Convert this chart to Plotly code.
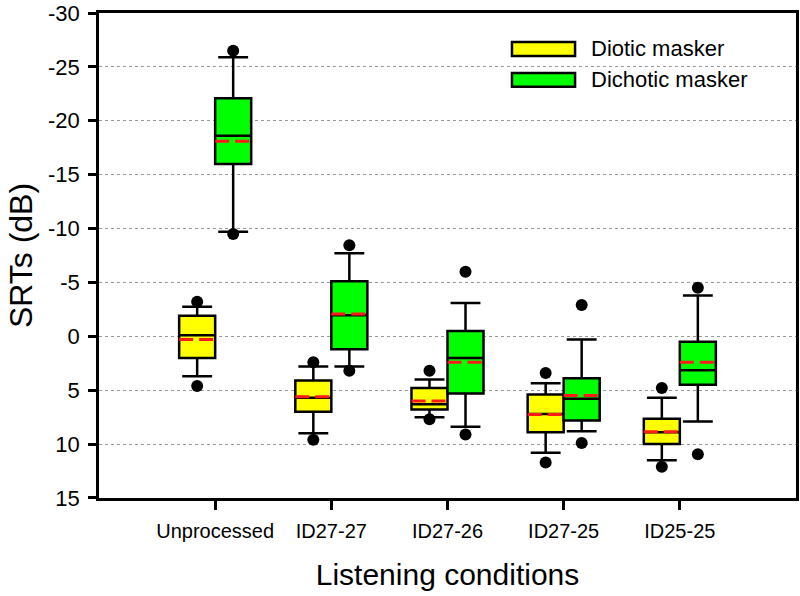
import plotly.graph_objects as go

conditions = ["Unprocessed", "ID27-27", "ID27-26", "ID27-25", "ID25-25"]

# Diotic masker (values in dB SRT)
dio_p_lo = [-3.2, 2.4, 3.2, 3.4, 4.8]
dio_w_lo = [-2.75, 2.8, 4.0, 4.35, 5.7]
dio_q1 = [-1.9, 4.1, 4.8, 5.4, 7.65]
dio_med = [-0.1, 5.7, 6.3, 7.2, 8.9]
dio_mean = [0.3, 5.6, 6.0, 7.25, 8.85]
dio_q3 = [2.0, 7.0, 6.8, 8.9, 10.0]
dio_w_hi = [3.7, 9.0, 7.5, 10.8, 11.5]
dio_p_hi = [4.6, 9.6, 7.7, 11.7, 12.1]

# Dichotic masker
dic_p_lo = [-26.5, -8.45, -6.0, -2.9, -4.5]
dic_w_lo = [-25.9, -7.7, -3.1, 0.3, -3.8]
dic_q1 = [-22.1, -5.1, -0.5, 3.9, 0.5]
dic_med = [-18.6, -1.95, 2.0, 5.8, 3.15]
dic_mean = [-18.1, -2.07, 2.4, 5.5, 2.4]
dic_q3 = [-16.0, 1.2, 5.3, 7.8, 4.5]
dic_w_hi = [-9.7, 2.8, 8.4, 8.8, 7.9]
dic_p_hi = [-9.5, 3.2, 9.1, 9.9, 10.95]

yticks = list(range(-30, 20, 5))
yticklabels = [str(v) for v in yticks]

BW = 0.31
OFF = 0.155
LW = 2.5

fig = go.Figure()

series = [
    ("Diotic masker", -OFF, "#ffff00", dio_p_lo, dio_w_lo, dio_q1, dio_med, dio_mean, dio_q3, dio_w_hi, dio_p_hi),
    ("Dichotic masker", OFF, "#00ff00", dic_p_lo, dic_w_lo, dic_q1, dic_med, dic_mean, dic_q3, dic_w_hi, dic_p_hi),
]

for name, off, col, plo, wlo, q1, med, mean, q3, whi, phi in series:
    xs = [i + off for i in range(len(conditions))]
    fig.add_trace(go.Box(
        x=xs, q1=q1, median=med, q3=q3, lowerfence=wlo, upperfence=whi,
        width=BW, whiskerwidth=0.83, fillcolor=col,
        line=dict(color="black", width=LW), name=name, showlegend=False,
        hoverinfo="skip",
    ))
    # mean lines
    mx, my = [], []
    for x, m in zip(xs, mean):
        mx += [x - BW / 2, x + BW / 2, None]
        my += [m, m, None]
    fig.add_trace(go.Scatter(
        x=mx, y=my, mode="lines",
        line=dict(color="#ff1a1a", width=3, dash="14px,6px"),
        showlegend=False, hoverinfo="skip",
    ))
    # 5th / 95th percentile dots
    fig.add_trace(go.Scatter(
        x=xs + xs, y=plo + phi, mode="markers",
        marker=dict(color="black", size=12),
        showlegend=False, hoverinfo="skip",
    ))

# custom legend
leg = [("Diotic masker", "#ffff00", 0.9403, 0.9115), ("Dichotic masker", "#00ff00", 0.8765, 0.8477)]
for text, col, y1, y0 in leg:
    fig.add_shape(type="rect", xref="paper", yref="paper", x0=0.5925, x1=0.683, y0=y0, y1=y1,
                  fillcolor=col, line=dict(color="black", width=2.5))
    fig.add_annotation(xref="paper", yref="paper", x=0.703, y=(y0 + y1) / 2, text=text,
                       showarrow=False, xanchor="left", yanchor="middle",
                       font=dict(size=22, color="black", family="Liberation Sans, Arial"))

fig.update_layout(
    width=800, height=596,
    margin=dict(l=99, r=4, t=13, b=98, autoexpand=False),
    paper_bgcolor="white", plot_bgcolor="white",
    font=dict(family="Liberation Sans, Arial", color="black"),
    boxmode="overlay",
)
fig.update_xaxes(
    range=[-1, 5], tickvals=list(range(len(conditions))), ticktext=conditions,
    showline=True, mirror=True, linecolor="black", linewidth=LW,
    ticks="outside", ticklen=9, tickwidth=LW, tickcolor="black",
    showgrid=False, zeroline=False, automargin=False,
    tickfont=dict(size=20), ticklabelstandoff=4,
    title=dict(text="Listening conditions", font=dict(size=30), standoff=24),
)
fig.update_yaxes(
    range=[15.001, -30.001], tickvals=yticks, ticktext=yticklabels,
    showline=True, mirror=True, linecolor="black", linewidth=LW,
    ticks="outside", ticklen=8, tickwidth=LW, tickcolor="black",
    showgrid=True, gridcolor="#999999", griddash="dot", gridwidth=1,
    zeroline=False, automargin=False, ticklabeloverflow="allow",
    tickfont=dict(size=22), ticklabelstandoff=4,
    title=dict(text="SRTs (dB)", font=dict(size=32), standoff=6),
)

fig.write_html(
    "out.html",
    config={"displayModeBar": False},
    post_script="document.body.style.margin='0';document.body.style.padding='0';document.body.style.overflow='hidden';",
)
